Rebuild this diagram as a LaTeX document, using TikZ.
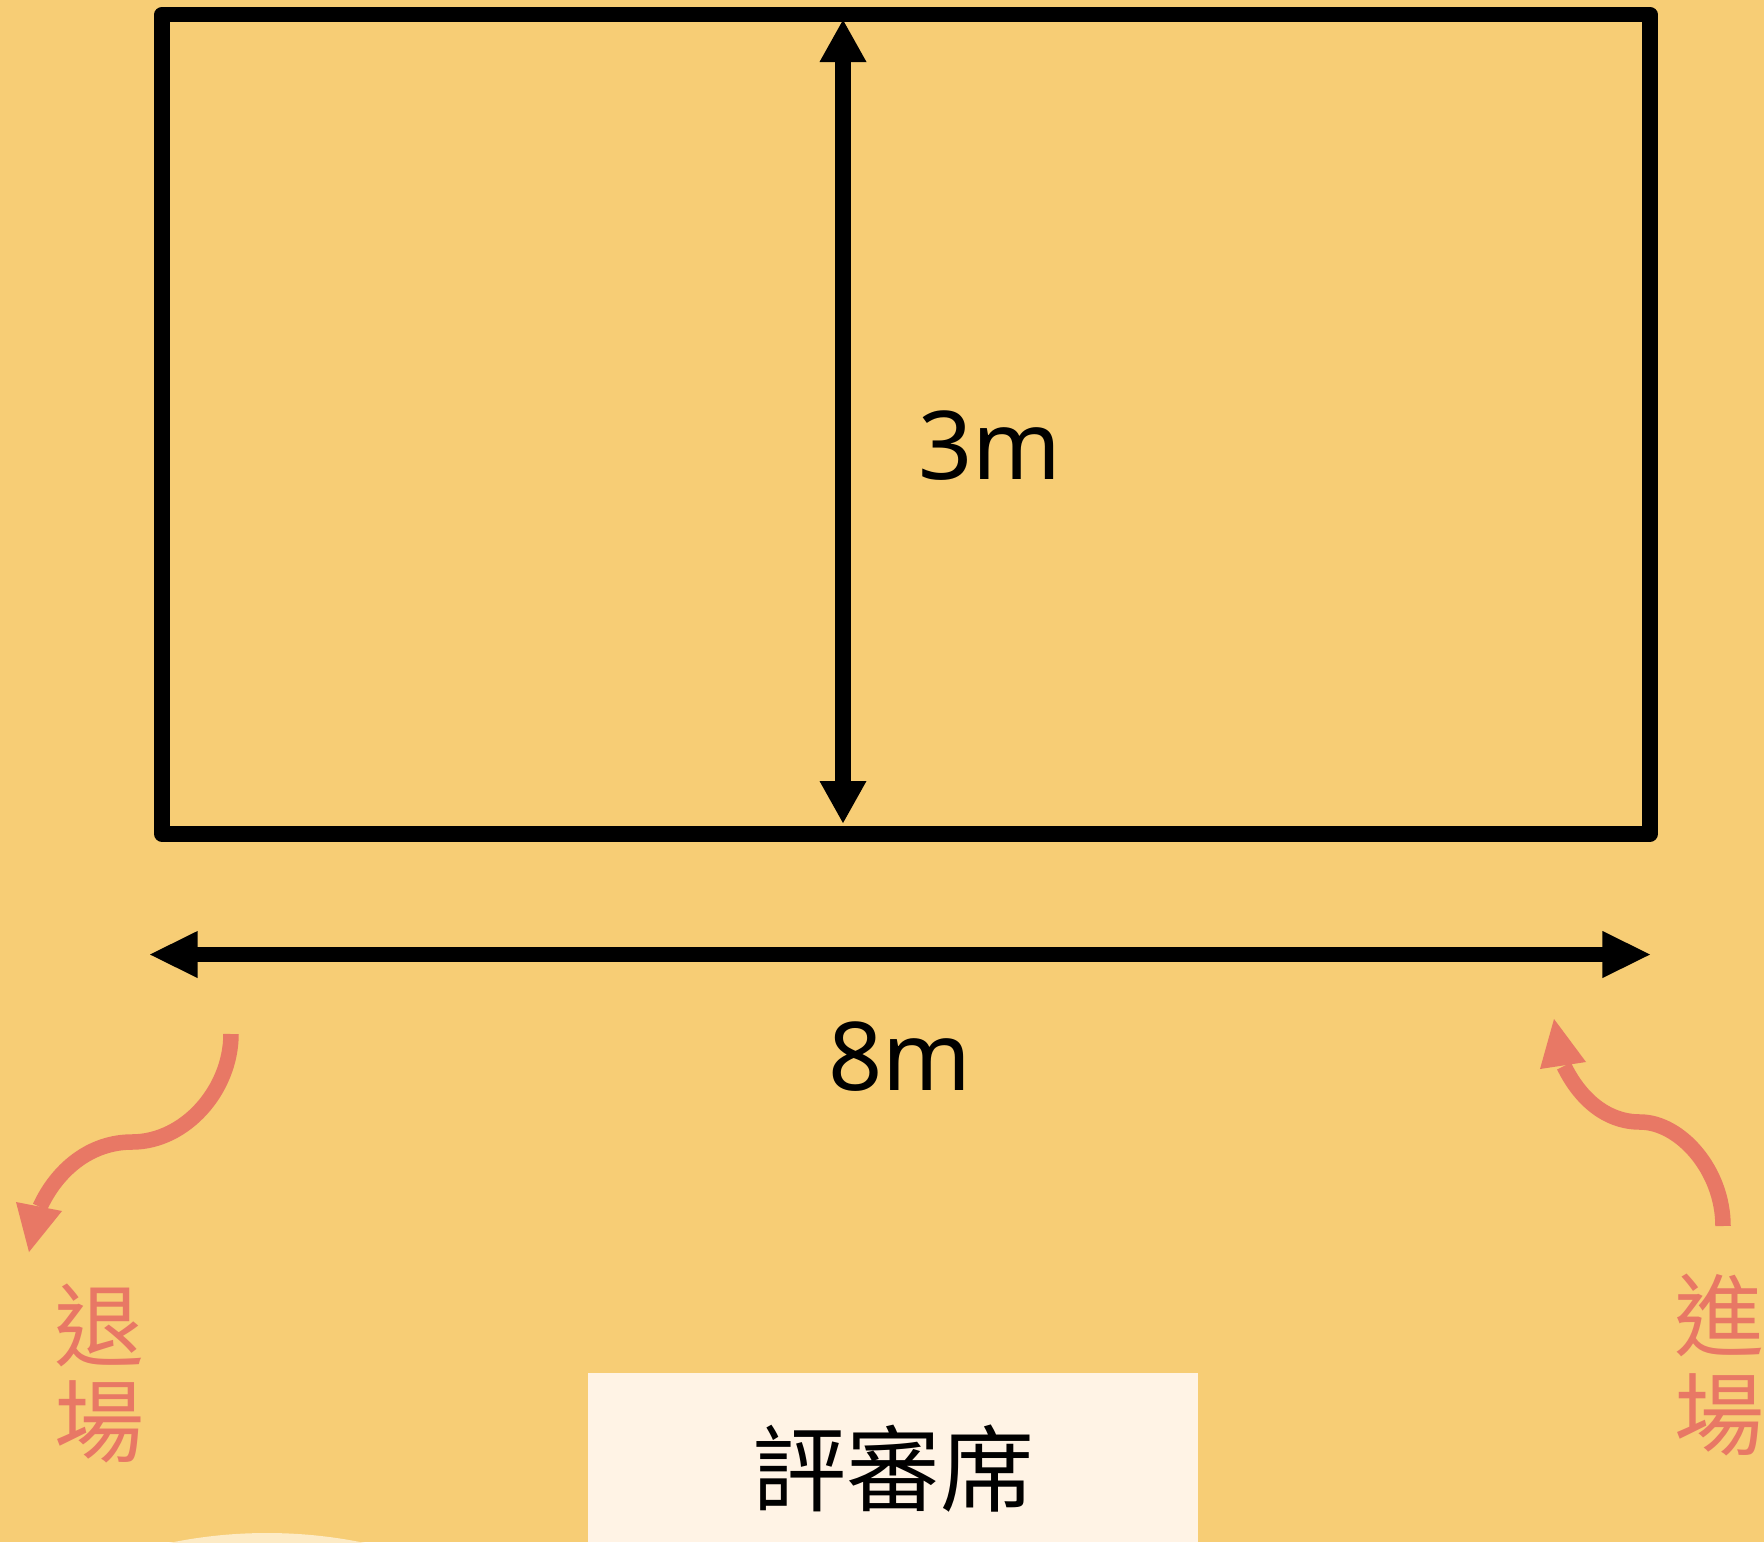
\documentclass[tikz,border=0pt]{standalone}
\usepackage{fontspec}
\setmainfont{Noto Sans}
\newfontfamily\cjk{Noto Sans CJK TC}
\usetikzlibrary{arrows.meta}
\definecolor{bgcol}{HTML}{F7CD75}
\definecolor{redcol}{HTML}{E87865}
\definecolor{boxcol}{HTML}{FFF3E5}
\definecolor{arccol}{HTML}{FDEBC6}
\tikzset{
  frame/.style={line width=15.5pt, line join=round, line cap=round, draw=black},
  dimline/.style={line width=15.5pt, draw=black},
  flow/.style={line width=15.5pt, draw=redcol},
  headfill/.style={fill=redcol},
  blackhead/.style={fill=black},
  latin/.style={font=\fontsize{95}{100}\selectfont, inner sep=0pt},
  cjklabel/.style={font=\cjk\fontsize{90}{95}\selectfont, inner sep=0pt},
  judgelabel/.style={font=\cjk\fontsize{94}{100}\selectfont, inner sep=0pt},
}
\begin{document}
\begin{tikzpicture}[x=1pt,y=-1pt]
\useasboundingbox (0,0) rectangle (1764,1542);
\fill[bgcol] (0,0) rectangle (1764,1542);
% light arc at bottom
\begin{scope}
\clip (0,0) rectangle (1764,1542);
\fill[arccol] (267,2013) circle[radius=480];
\end{scope}
% stage rectangle
\draw[frame] (162,14.7) rectangle (1650,834);
% vertical dimension arrow
\coordinate (vtop) at (843,20);
\coordinate (vbot) at (843,823);
\draw[dimline] (843,55) -- (843,788);
\fill[blackhead] (vtop) -- (819.5,62) -- (866.5,62) -- cycle;
\fill[blackhead] (vbot) -- (819.5,781) -- (866.5,781) -- cycle;
\node[latin] (h3) at (990,446) {3m};
% horizontal dimension arrow
\coordinate (hl) at (150,954.5);
\coordinate (hr) at (1650,954.5);
\draw[dimline] (190,954.5) -- (1610,954.5);
\fill[blackhead] (hl) -- (197.7,930.9) -- (197.7,978.1) -- cycle;
\fill[blackhead] (hr) -- (1602.3,930.9) -- (1602.3,978.1) -- cycle;
\node[latin] (w8) at (900,1057) {8m};
% exit arrow (left)
\coordinate (exs) at (231,1034);
\coordinate (exe) at (40,1207);
\draw[flow] (exs) .. controls (231,1090) and (185,1142) .. (132,1142)
  .. controls (90,1142) and (57,1170) .. (exe);
\fill[headfill] (29,1252) -- (16,1202) -- (62,1211) -- cycle;
% entry arrow (right)
\coordinate (ens) at (1723,1226);
\coordinate (ene) at (1564,1066);
\draw[flow] (ens) .. controls (1723,1170) and (1680,1122) .. (1640,1122)
  .. controls (1605,1122) and (1579,1097) .. (ene);
\fill[headfill] (1554,1019) -- (1540,1069) -- (1586,1062) -- cycle;
% labels
\node[cjklabel, text=redcol] (ex1) at (99,1325) {退};
\node[cjklabel, text=redcol] (ex2) at (99,1422) {場};
\node[cjklabel, text=redcol] (en1) at (1719,1315) {進};
\node[cjklabel, text=redcol] (en2) at (1719,1415) {場};
% judges' table
\fill[boxcol] (588,1372.5) rectangle (1198,1542);
\node[judgelabel, text=black] (judge) at (893,1469) {評審席};
\end{tikzpicture}
\end{document}
